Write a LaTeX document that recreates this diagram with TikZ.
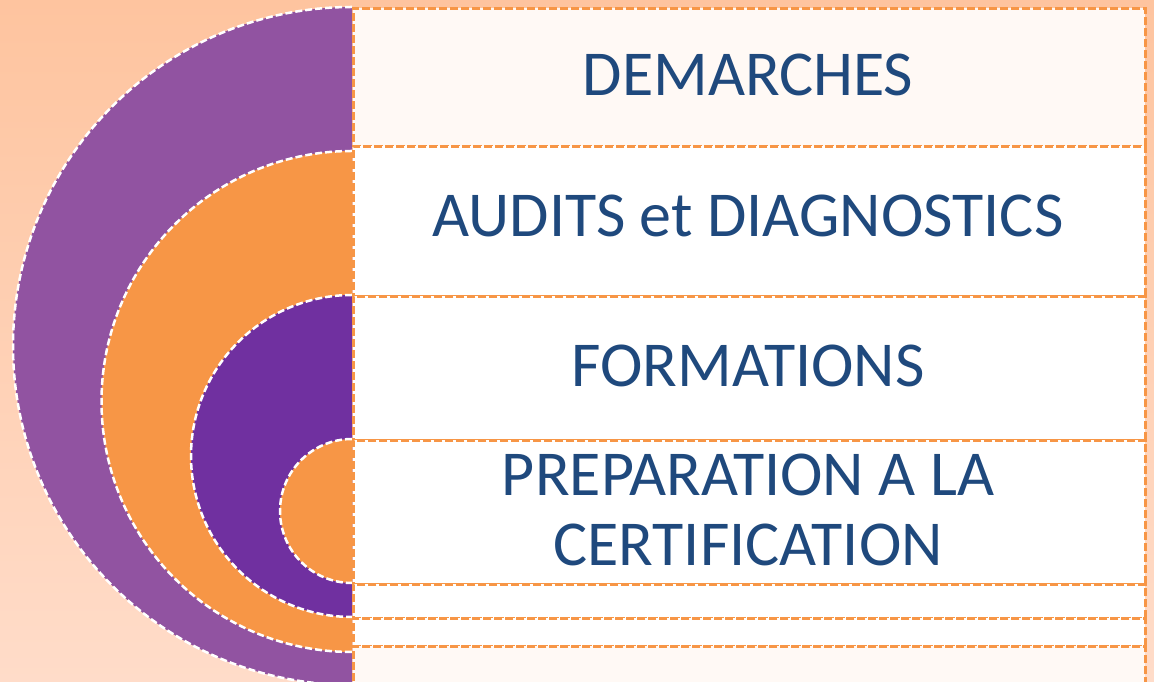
\documentclass[tikz,border=0pt]{standalone}
\usepackage{fontspec}
\setmainfont{Carlito}
\definecolor{bgtop}{HTML}{FEC49F}
\definecolor{bgbot}{HTML}{FFDCC9}
\definecolor{purpA}{HTML}{9153A1}
\definecolor{purpB}{HTML}{7030A0}
\definecolor{orng}{HTML}{F79646}
\definecolor{rowlight}{HTML}{FFF9F5}
\definecolor{txtblue}{HTML}{1F497D}
\tikzset{
  arcline/.style={draw=white, line width=2.5pt, dash pattern=on 7pt off 3pt},
  rowbox/.style={draw=orng, line width=2.8pt, dash pattern=on 8pt off 3pt,
    rectangle, minimum width=792pt, anchor=north west, inner sep=0pt},
  lbl/.style={text=txtblue, font=\fontsize{64}{70}\selectfont, anchor=base, align=center, inner sep=0pt}
}
\begin{document}
\begin{tikzpicture}[x=1pt,y=1pt]
\useasboundingbox (0,0) rectangle (1154,682);
\shade[top color=bgtop, bottom color=bgbot] (0,0) rectangle (1154,682);
\begin{scope}
\clip (0,0) rectangle (1154,682);
% nested half discs
\fill[purpA] (352,675) arc[start angle=90,end angle=270,radius=339] -- cycle;
\draw[arcline] (352,675) arc[start angle=90,end angle=270,radius=339];
\fill[orng] (352,531) arc[start angle=90,end angle=270,radius=250.5] -- cycle;
\draw[arcline] (352,531) arc[start angle=90,end angle=270,radius=250.5];
\fill[purpB] (352,387) arc[start angle=90,end angle=270,radius=161] -- cycle;
\draw[arcline] (352,387) arc[start angle=90,end angle=270,radius=161];
\fill[orng] (352,243) arc[start angle=90,end angle=270,radius=72] -- cycle;
\draw[arcline] (352,243) arc[start angle=90,end angle=270,radius=72];
% rows
\node[rowbox, fill=rowlight, minimum height=138pt] (r1) at (352,675) {};
\node[rowbox, fill=white, minimum height=150pt] (r2) at (352,537) {};
\node[rowbox, fill=white, minimum height=144pt] (r3) at (352,387) {};
\node[rowbox, fill=white, minimum height=144pt] (r4) at (352,243) {};
\node[rowbox, fill=white, minimum height=34pt] (r5) at (352,99) {};
\node[rowbox, fill=white, minimum height=28pt] (r6) at (352,65) {};
\node[rowbox, fill=rowlight, minimum height=50pt] (r7) at (352,37) {};
\end{scope}
% labels
\node[lbl] (t1) at (748,586) {DEMARCHES};
\node[lbl] (t2) at (748,445) {AUDITS et DIAGNOSTICS};
\node[lbl] (t3) at (748,295) {FORMATIONS};
\node[lbl] (t4) at (748,116) {PREPARATION A LA\\CERTIFICATION};
\end{tikzpicture}
\end{document}
